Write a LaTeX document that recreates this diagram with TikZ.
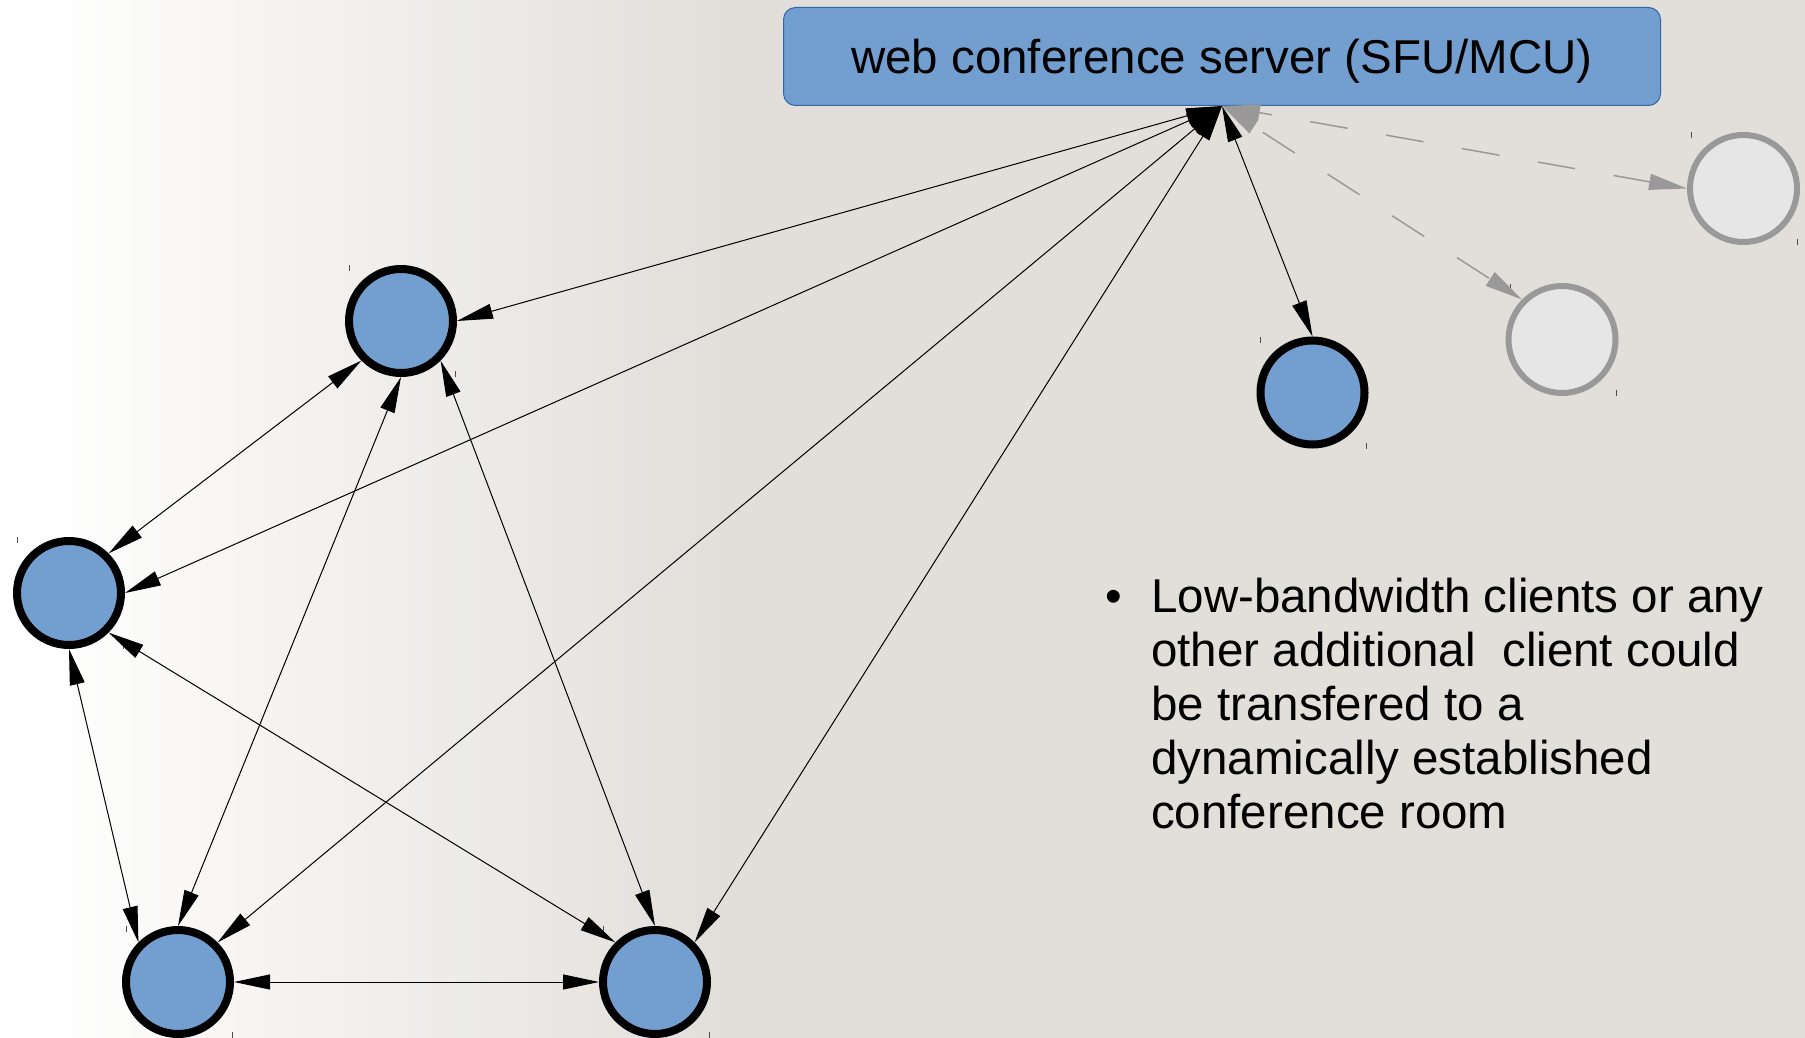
\documentclass[tikz,border=0pt]{standalone}
\usepackage{fontspec}
\setmainfont{Liberation Sans}
\usetikzlibrary{arrows.meta}
\definecolor{bgc}{RGB}{226,222,218}
\definecolor{blu}{HTML}{729FCF}
\definecolor{blubd}{HTML}{3465A4}
\definecolor{gry}{HTML}{999999}
\definecolor{lgry}{HTML}{E6E6E6}
\begin{document}
\begin{tikzpicture}[x=1pt,y=-1pt,
  client/.style={circle, draw=black, line width=8pt, fill=blu, minimum size=104pt, inner sep=0pt},
  ghost/.style={circle, draw=gry, line width=6pt, fill=lgry, minimum size=107pt, inner sep=0pt},
  link/.style={line width=1pt, {Triangle[length=36pt,width=15pt]}-{Triangle[length=36pt,width=15pt]}},
  glink/.style={draw=gry, line width=1.5pt, dash pattern=on 38pt off 39pt, {Triangle[length=38pt,width=16pt]}-{Triangle[length=38pt,width=16pt]}},
  tick/.style={draw=black!70, line width=0.8pt},
  txt/.style={anchor=base west, inner sep=0pt, font=\fontsize{47.5}{54}\selectfont}]
\useasboundingbox (0,0) rectangle (1805,1038);
% background
\fill[bgc] (729,0) rectangle (1805,1038);
\fill[white] (0,0) rectangle (40,1038);
\shade[left color=white, right color=bgc] (39,0) rectangle (730,1038);

% server
\node[draw=blubd, fill=blu, line width=1pt, rounded corners=12pt, minimum width=877pt, minimum height=98pt, inner sep=0pt, text height=40pt, text depth=6pt, font=\fontsize{47.5}{54}\selectfont] (srv) at (1222,56.5) {web conference server (SFU/MCU)};

% clients
\node[client] (A) at (401,321) {};
\node[client] (B) at (69,593) {};
\node[client] (C) at (178,982) {};
\node[client] (D) at (655,982) {};
\node[client] (E) at (1312.5,392.5) {};
\node[ghost] (G) at (1562,339.5) {};
\node[ghost] (F) at (1743.5,188.5) {};

% bounding-box ticks
\foreach \n in {A,B,C,D,E,F,G}{
  \draw[tick] ([shift={(-52,-56)}]\n.center) -- ++(0,6);
  \draw[tick] ([shift={(54,50)}]\n.center) -- ++(0,6);
}

% server links
\draw[link] (srv.south) -- (A.east);
\draw[link] (srv.south) -- (B.east);
\draw[link] (srv.south) -- (C.north east);
\draw[link] (srv.south) -- (D.north east);
\draw[link] (srv.south) -- (E.north);
\draw[glink, dash phase=25pt] (srv.south) -- (F.west);
\draw[glink, dash phase=66pt] (srv.south) -- (G.north west);

% mesh links
\draw[link] (A.south west) -- (B.north east);
\draw[link] (A.south) -- (C.north);
\draw[link] (A.south east) -- (D.north);
\draw[link] (B.south) -- (C.north west);
\draw[link] (B.south east) -- (D.north west);
\draw[link] (C.east) -- (D.west);

% bullet text
\node[txt] (bul) at (1105,612) {•};
\node[txt] (l1) at (1151,612) {Low-bandwidth clients or any};
\node[txt] (l2) at (1151,666) {other additional\ \ client could};
\node[txt] (l3) at (1151,720) {be transfered to a};
\node[txt] (l4) at (1151,774) {dynamically established};
\node[txt] (l5) at (1151,828) {conference room};
\end{tikzpicture}
\end{document}
